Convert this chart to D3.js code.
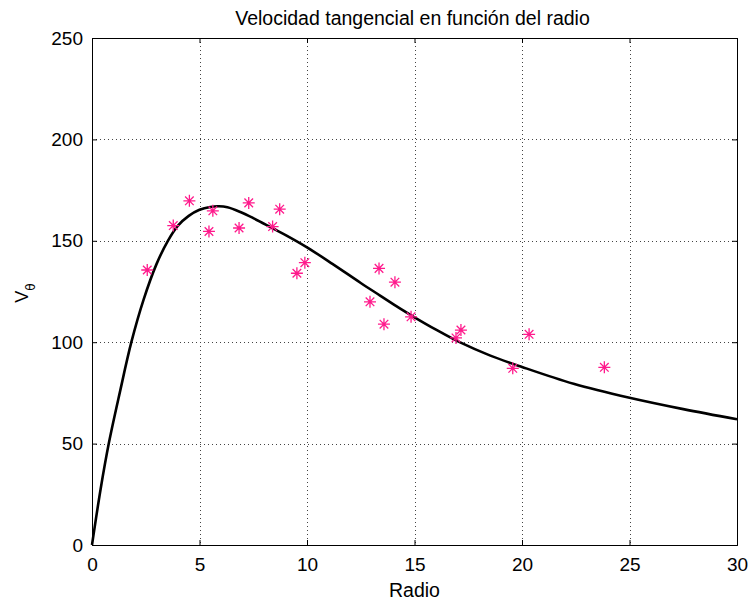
<!DOCTYPE html>
<html>
<head>
<meta charset="utf-8">
<script src="https://cdn.jsdelivr.net/npm/d3@7"></script>
<style>
  body { margin: 0; background: #fff; }
  text { font-family: "Liberation Sans", Arial, sans-serif; fill: #000; }
</style>
</head>
<body>
<svg id="chart" width="750" height="605"></svg>
<script>
// measured radius / tangential velocity
const radio = [2.57, 3.78, 4.53, 5.44, 5.62, 6.84, 7.29, 8.40, 8.73, 9.53, 9.90,
  12.93, 13.35, 13.58, 14.09, 14.84, 16.93, 17.16, 19.57, 20.33, 23.83];
const velocidad = [135.6, 157.5, 169.7, 154.6, 164.8, 156.3, 168.7, 157.0, 165.6, 134.0, 139.2,
  119.9, 136.4, 108.9, 129.6, 112.5, 102.1, 106.0, 87.1, 103.9, 87.6];

// fitted rotation curve
const curveR = [0, 0.4, 0.78, 1.3, 1.83, 2.4, 3.0, 3.53, 4.0, 4.5, 5.0, 5.5, 5.9,
  6.3, 6.9, 7.5, 8.4, 9.05, 10.0, 11.2, 12.5, 13.4, 14.3, 15.0, 16.0, 17.1, 18.5, 20.0, 22.4, 25.0, 27.5, 30.0];
const curveV = [0, 27.5, 50.0, 75.5, 100.0, 121.0, 138.5, 150.0, 157.5, 162.3, 165.3, 166.7, 167.0,
  166.5, 164.2, 161.2, 156.2, 152.6, 146.8, 138.5, 129.2, 123.0, 116.8, 112.3, 106.2, 100.0, 93.5, 87.8, 79.5, 72.6, 67.0, 62.0];

const xTicks = [0, 5, 10, 15, 20, 25, 30];
const yTicks = [0, 50, 100, 150, 200, 250];

const margin = { top: 38, right: 13, bottom: 60, left: 92 };
const W = 750, H = 605;
const w = W - margin.left - margin.right;
const h = H - margin.top - margin.bottom;

const svg = d3.select('#chart');
const g = svg.append('g').attr('transform', `translate(${margin.left},${margin.top})`);

const x = d3.scaleLinear().domain([0, 30]).range([0, w]);
const y = d3.scaleLinear().domain([0, 250]).range([h, 0]);

// dotted grid
g.append('g')
  .selectAll('line')
  .data(xTicks.slice(1, -1))
  .join('line')
    .attr('x1', d => Math.round(x(d)) + 0.5).attr('x2', d => Math.round(x(d)) + 0.5)
    .attr('y1', 0).attr('y2', h)
    .attr('stroke', '#444').attr('stroke-dasharray', '1,3');
g.append('g')
  .selectAll('line')
  .data(yTicks.slice(1, -1))
  .join('line')
    .attr('y1', d => Math.round(y(d)) + 0.5).attr('y2', d => Math.round(y(d)) + 0.5)
    .attr('x1', 0).attr('x2', w)
    .attr('stroke', '#444').attr('stroke-dasharray', '1,3');

// axes with inward ticks on all four sides
const axB = g.append('g').attr('transform', `translate(0,${h})`)
  .call(d3.axisBottom(x).tickValues(xTicks).tickSize(-5).tickPadding(13));
const axT = g.append('g')
  .call(d3.axisTop(x).tickValues(xTicks).tickSize(-5).tickFormat(''));
const axL = g.append('g')
  .call(d3.axisLeft(y).tickValues(yTicks).tickSize(-5).tickPadding(9));
const axR = g.append('g').attr('transform', `translate(${w},0)`)
  .call(d3.axisRight(y).tickValues(yTicks).tickSize(-5).tickFormat(''));

[axB, axT, axL, axR].forEach(a => {
  a.select('.domain').attr('stroke', '#000');
  a.selectAll('.tick line').attr('stroke', '#000');
  a.selectAll('text').attr('font-size', 19).attr('font-family', null).attr('fill', '#222');
});

// fitted curve
const line = d3.line()
  .x((d, i) => x(curveR[i]))
  .y(d => y(d))
  .curve(d3.curveCatmullRom.alpha(0.5));
g.append('path')
  .datum(curveV)
  .attr('d', line)
  .attr('fill', 'none')
  .attr('stroke', '#000')
  .attr('stroke-width', 2.6);

// asterisk markers
const star = 'M-6,0H6M0,-6V6M-4.3,-4.3L4.3,4.3M-4.3,4.3L4.3,-4.3';
g.append('g')
  .selectAll('path')
  .data(radio)
  .join('path')
    .attr('transform', (d, i) => `translate(${x(d)},${y(velocidad[i])})`)
    .attr('d', star)
    .attr('fill', 'none')
    .attr('stroke', '#ff1a8c')
    .attr('stroke-width', 1.3);

// labels
svg.append('text')
  .attr('x', margin.left + w / 2 - 2).attr('y', 25)
  .attr('text-anchor', 'middle').attr('font-size', 19.5).attr('fill', '#222')
  .text('Velocidad tangencial en función del radio');

svg.append('text')
  .attr('x', margin.left + w / 2).attr('y', 597)
  .attr('text-anchor', 'middle').attr('font-size', 19.5).attr('fill', '#222')
  .text('Radio');

const yl = svg.append('text')
  .attr('transform', `translate(28,293) rotate(-90)`)
  .attr('text-anchor', 'middle').attr('font-size', 18).attr('fill', '#222');
yl.append('tspan').text('V');
yl.append('tspan').attr('font-size', 12).attr('dy', 7).attr('font-family', '"DejaVu Sans", sans-serif').text('θ');
</script>
</body>
</html>
